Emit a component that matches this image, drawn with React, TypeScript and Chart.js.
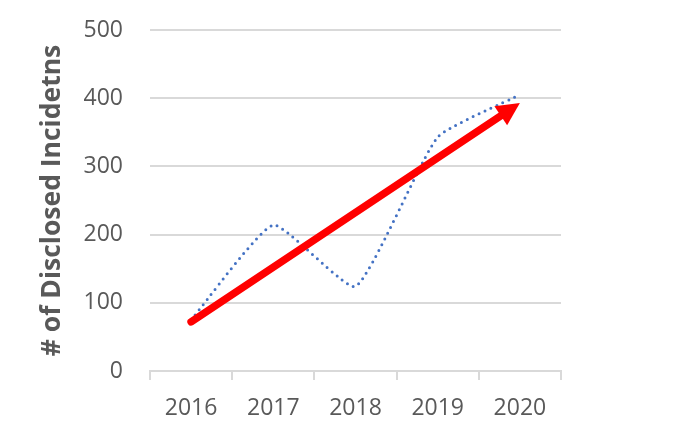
import React, { useEffect, useRef } from 'react';
import { Chart, registerables } from 'chart.js';

Chart.register(...registerables);

const years: string[] = ['2016', '2017', '2018', '2019', '2020'];
const incidents: number[] = [75, 214, 124, 343, 405];
const trend: (number | null)[] = [72, null, null, null, 393];
const yTicks: number[] = [0, 100, 200, 300, 400, 500];
const yTitle = '# of Disclosed Incidetns';

const arrowPlugin = {
  id: 'trendArrow',
  afterDatasetsDraw(chart: any) {
    const meta = chart.getDatasetMeta(1);
    const pts = meta.data.filter((p: any) => !p.skip && p.y != null && !isNaN(p.y));
    if (pts.length < 2) return;
    const a = pts[0];
    const b = pts[pts.length - 1];
    const ang = Math.atan2(b.y - a.y, b.x - a.x);
    const headLen = 23;
    const headW = 11.5;
    const ctx = chart.ctx;
    ctx.save();
    ctx.strokeStyle = '#ff0000';
    ctx.fillStyle = '#ff0000';
    ctx.lineWidth = 7.5;
    ctx.lineCap = 'round';
    const ex = b.x - Math.cos(ang) * (headLen - 4);
    const ey = b.y - Math.sin(ang) * (headLen - 4);
    ctx.beginPath();
    ctx.moveTo(a.x, a.y);
    ctx.lineTo(ex, ey);
    ctx.stroke();
    const bx = b.x - Math.cos(ang) * headLen;
    const by = b.y - Math.sin(ang) * headLen;
    const px = -Math.sin(ang) * headW;
    const py = Math.cos(ang) * headW;
    ctx.beginPath();
    ctx.moveTo(b.x, b.y);
    ctx.lineTo(bx + px, by + py);
    ctx.lineTo(bx - px, by - py);
    ctx.closePath();
    ctx.fill();
    ctx.restore();
  },
};

export default function App() {
  const ref = useRef<HTMLCanvasElement | null>(null);
  useEffect(() => {
    if (!ref.current) return;
    const tickFont = { family: '"Open Sans", sans-serif', size: 23 };
    const chart = new Chart(ref.current, {
      type: 'line',
      data: {
        labels: years,
        datasets: [
          {
            data: incidents,
            borderColor: '#4472c4',
            borderWidth: 3,
            borderDash: [0, 6.5],
            borderCapStyle: 'round',
            tension: 0.15,
            pointRadius: 0,
            fill: false,
          },
          {
            data: trend,
            showLine: false,
            spanGaps: true,
            pointRadius: 0,
            borderColor: '#ff0000',
          },
        ],
      },
      options: {
        animation: false,
        responsive: true,
        maintainAspectRatio: false,
        layout: { padding: { left: 0, right: 119, top: 30, bottom: 0 } },
        plugins: { legend: { display: false }, tooltip: { enabled: false } },
        scales: {
          x: {
            offset: true,
            grid: {
              offset: true,
              drawOnChartArea: false,
              drawTicks: true,
              tickLength: 9,
              color: '#d9d9d9',
              lineWidth: 2,
            },
            border: { display: true, color: '#d9d9d9', width: 2 },
            ticks: { color: '#595959', font: tickFont, padding: 15, maxRotation: 0 },
            afterFit: (s: any) => { s.height = 63; },
          },
          y: {
            min: 0,
            max: 500,
            afterBuildTicks: (s: any) => { s.ticks = yTicks.map((v) => ({ value: v })); },
            grid: { color: '#d9d9d9', lineWidth: 2, drawTicks: false },
            border: { display: false },
            ticks: { color: '#595959', font: tickFont, padding: 27 },
            title: {
              display: true,
              text: yTitle,
              color: '#595959',
              font: { family: '"Open Sans", sans-serif', size: 26.5, weight: 'bold' },
              padding: { top: 37, bottom: 0 },
            },
            afterFit: (s: any) => {
              s.width = 150;
              s.paddingTop = 0;
              s.paddingBottom = 0;
            },
          },
        },
      },
      plugins: [arrowPlugin],
    } as any);
    return () => chart.destroy();
  }, []);
  return (
    <div style={{ position: 'fixed', left: 0, top: 0, width: 680, height: 434, background: '#fff' }}>
      <canvas ref={ref} />
    </div>
  );
}
